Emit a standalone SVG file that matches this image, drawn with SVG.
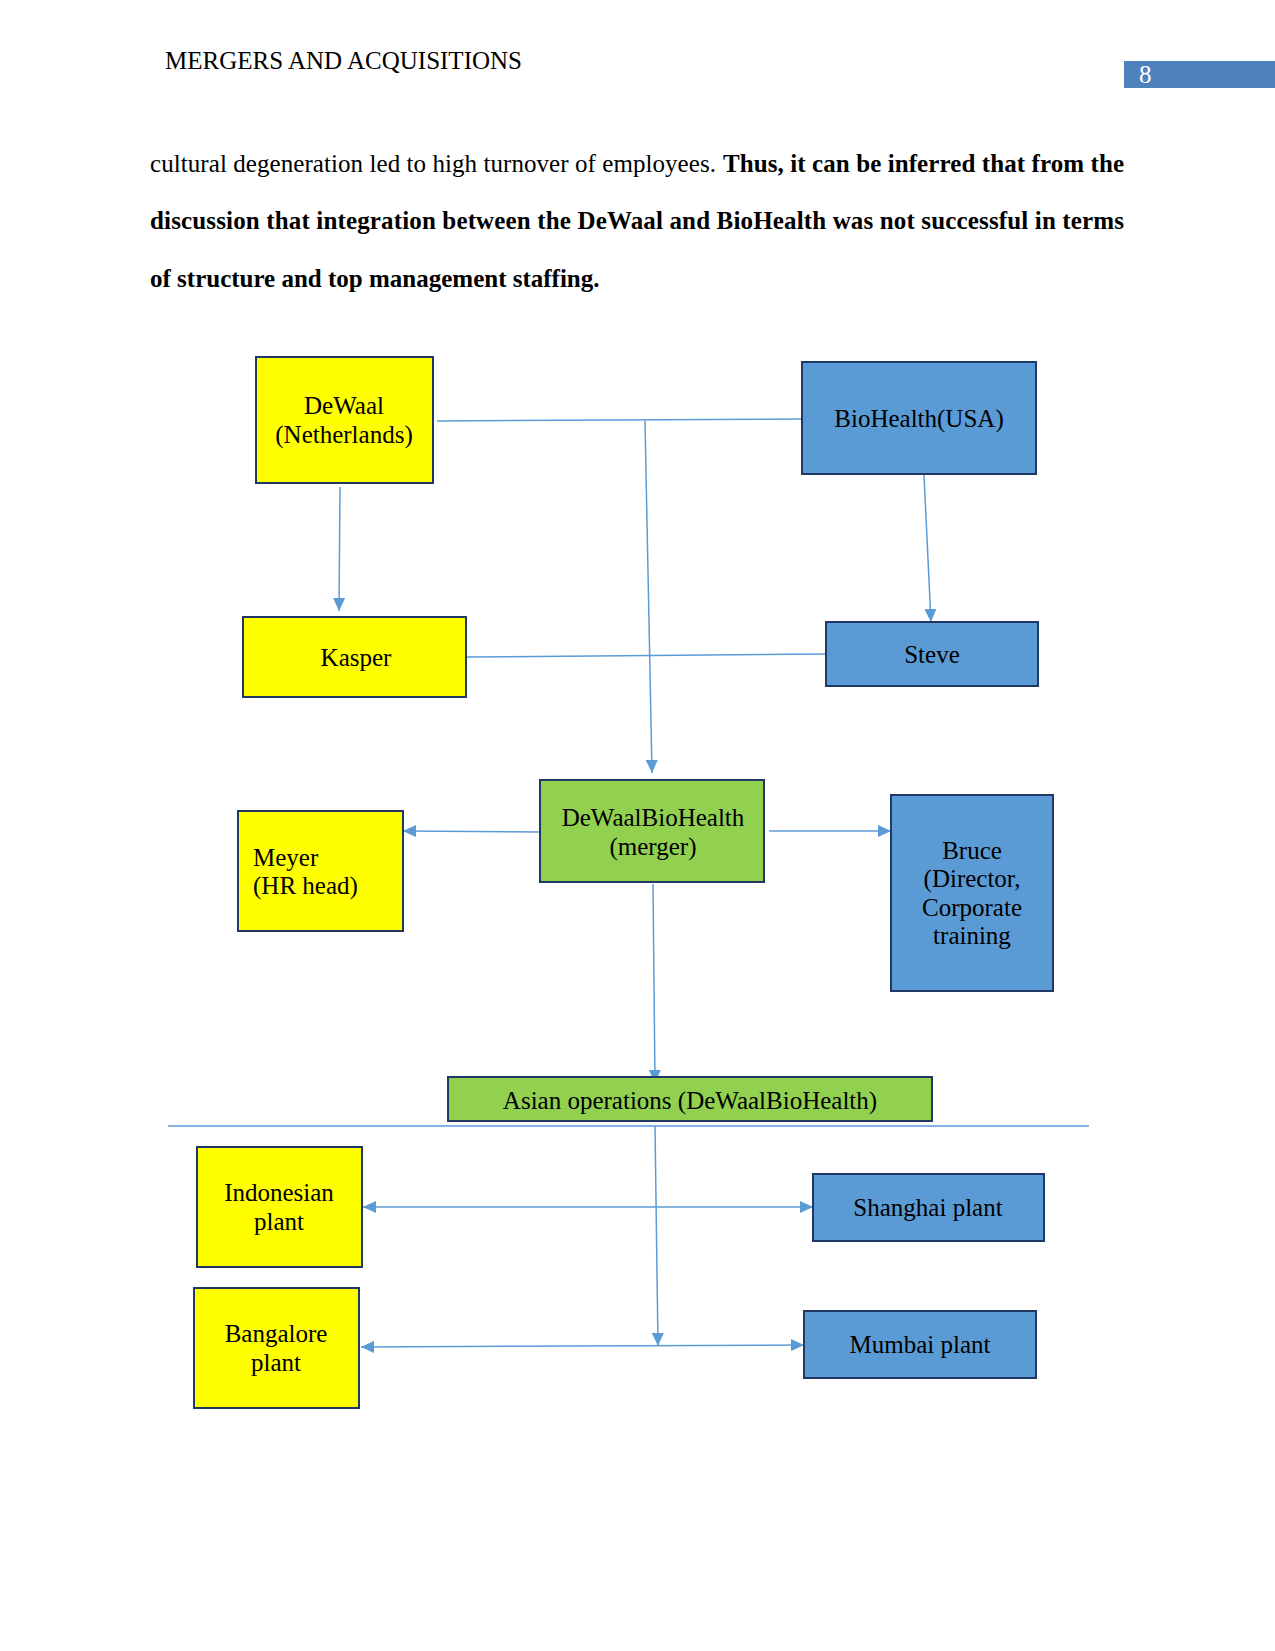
<svg xmlns="http://www.w3.org/2000/svg" width="1275" height="1651" viewBox="0 0 1275 1651">
<style>
  text { font-family: "Liberation Serif", "Times New Roman", serif; fill: #000; }
  .hdr { font-size: 25px; }
  .body { font-size: 25px; }
  .b { font-weight: bold; }
  .lbl { font-size: 25px; text-anchor: middle; }
  .lbll { font-size: 25px; }
  .yellow { fill: #FFFF00; stroke: #1F3864; stroke-width: 2; }
  .blue { fill: #5B9BD5; stroke: #1F3864; stroke-width: 2; }
  .green { fill: #92D050; stroke: #1F3864; stroke-width: 2; }
  .conn { stroke: #5B9BD5; stroke-width: 1.5; fill: none; }
</style>
<defs>
  <marker id="arr" viewBox="0 0 10 10" refX="10" refY="5" markerWidth="13" markerHeight="12" markerUnits="userSpaceOnUse" orient="auto" preserveAspectRatio="none">
    <path d="M0,0 L10,5 L0,10 z" fill="#5B9BD5"/>
  </marker>
  <marker id="arrS" viewBox="0 0 10 10" refX="0" refY="5" markerWidth="13" markerHeight="12" markerUnits="userSpaceOnUse" orient="auto" preserveAspectRatio="none">
    <path d="M10,0 L0,5 L10,10 z" fill="#5B9BD5"/>
  </marker>
</defs>
<rect width="1275" height="1651" fill="#fff"/>

<g id="header">
  <text class="hdr" x="165" y="69">MERGERS AND ACQUISITIONS</text>
  <rect x="1124" y="61" width="151" height="27" fill="#4F81BD"/>
  <text class="hdr" x="1139" y="83" style="fill:#fff">8</text>
</g>

<g id="body-text">
  <text class="body" x="150" y="172" textLength="566" lengthAdjust="spacing">cultural degeneration led to high turnover of employees.</text>
  <text class="body b" x="723" y="172" textLength="401" lengthAdjust="spacing">Thus, it can be inferred that from the</text>
  <text class="body b" x="150" y="229" textLength="974" lengthAdjust="spacing">discussion that integration between the DeWaal and BioHealth was not successful in terms</text>
  <text class="body b" x="150" y="287">of structure and top management staffing.</text>
</g>

<g id="connectors">
  <line class="conn" x1="437" y1="421" x2="802" y2="419"/>
  <line class="conn" x1="645" y1="421" x2="652" y2="773" marker-end="url(#arr)"/>
  <line class="conn" x1="340" y1="487" x2="339" y2="611" marker-end="url(#arr)"/>
  <line class="conn" x1="924" y1="475" x2="931" y2="622" marker-end="url(#arr)"/>
  <line class="conn" x1="467" y1="657" x2="826" y2="654"/>
  <line class="conn" x1="540" y1="832" x2="403" y2="831" marker-end="url(#arr)"/>
  <line class="conn" x1="769" y1="831" x2="891" y2="831" marker-end="url(#arr)"/>
  <line class="conn" x1="653" y1="884" x2="655" y2="1083" marker-end="url(#arr)"/>
  <line class="conn" x1="168" y1="1126" x2="1089" y2="1126"/>
  <line class="conn" x1="655" y1="1126" x2="658" y2="1346" marker-end="url(#arr)"/>
  <line class="conn" x1="363" y1="1207" x2="813" y2="1207" marker-start="url(#arrS)" marker-end="url(#arr)"/>
  <line class="conn" x1="361" y1="1347" x2="804" y2="1345" marker-start="url(#arrS)" marker-end="url(#arr)"/>
</g>

<g id="node-dewaal">
  <rect class="yellow" x="256" y="357" width="177" height="126"/>
  <text class="lbl" x="344" y="414">DeWaal</text>
  <text class="lbl" x="344" y="443">(Netherlands)</text>
</g>
<g id="node-biohealth">
  <rect class="blue" x="802" y="362" width="234" height="112"/>
  <text class="lbl" x="919" y="427">BioHealth(USA)</text>
</g>
<g id="node-kasper">
  <rect class="yellow" x="243" y="617" width="223" height="80"/>
  <text class="lbl" x="356" y="666">Kasper</text>
</g>
<g id="node-steve">
  <rect class="blue" x="826" y="622" width="212" height="64"/>
  <text class="lbl" x="932" y="663">Steve</text>
</g>
<g id="node-merger">
  <rect class="green" x="540" y="780" width="224" height="102"/>
  <text class="lbl" x="653" y="826">DeWaalBioHealth</text>
  <text class="lbl" x="653" y="855">(merger)</text>
</g>
<g id="node-meyer">
  <rect class="yellow" x="238" y="811" width="165" height="120"/>
  <text class="lbll" x="253" y="866">Meyer</text>
  <text class="lbll" x="253" y="894">(HR head)</text>
</g>
<g id="node-bruce">
  <rect class="blue" x="891" y="795" width="162" height="196"/>
  <text class="lbl" x="972" y="859">Bruce</text>
  <text class="lbl" x="972" y="887">(Director,</text>
  <text class="lbl" x="972" y="916">Corporate</text>
  <text class="lbl" x="972" y="944">training</text>
</g>
<g id="node-asian">
  <rect class="green" x="448" y="1077" width="484" height="44"/>
  <text class="lbl" x="690" y="1109">Asian operations (DeWaalBioHealth)</text>
</g>
<g id="node-indonesian">
  <rect class="yellow" x="197" y="1147" width="165" height="120"/>
  <text class="lbl" x="279" y="1201">Indonesian</text>
  <text class="lbl" x="279" y="1230">plant</text>
</g>
<g id="node-bangalore">
  <rect class="yellow" x="194" y="1288" width="165" height="120"/>
  <text class="lbl" x="276" y="1342">Bangalore</text>
  <text class="lbl" x="276" y="1371">plant</text>
</g>
<g id="node-shanghai">
  <rect class="blue" x="813" y="1174" width="231" height="67"/>
  <text class="lbl" x="928" y="1216">Shanghai plant</text>
</g>
<g id="node-mumbai">
  <rect class="blue" x="804" y="1311" width="232" height="67"/>
  <text class="lbl" x="920" y="1353">Mumbai plant</text>
</g>
</svg>
